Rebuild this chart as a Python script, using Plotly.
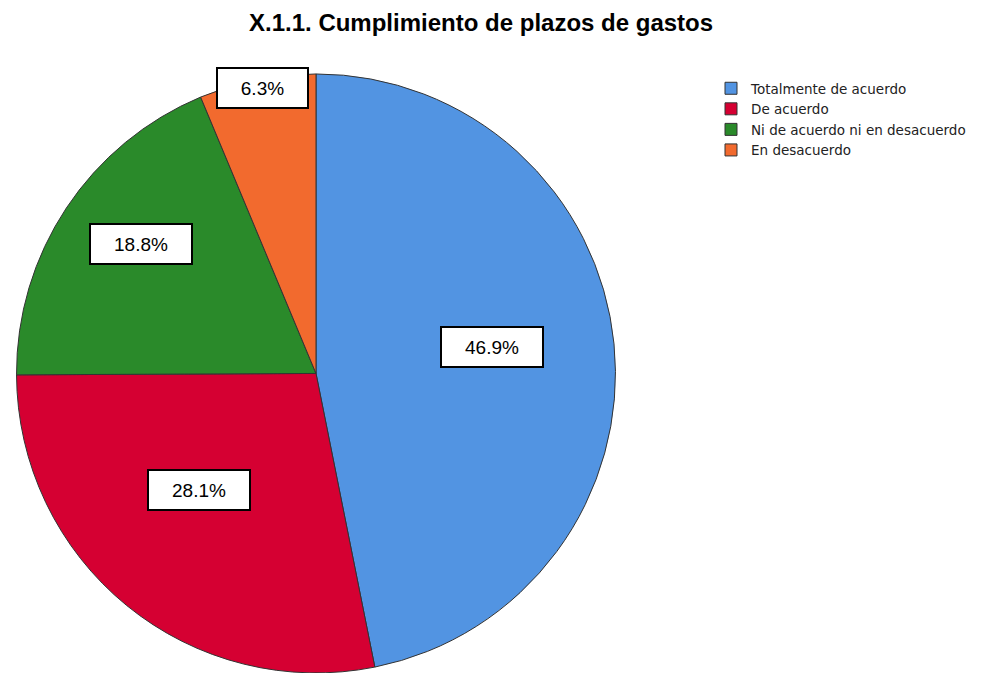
import math
import plotly.graph_objects as go

categories = ["Totalmente de acuerdo", "De acuerdo", "Ni de acuerdo ni en desacuerdo", "En desacuerdo"]
values = [46.9, 28.1, 18.8, 6.3]
colors = ["#5294E2", "#D50032", "#2A8A2A", "#F26A2E"]
label_radius = [0.59, 0.55, 0.73, 0.97]
label_angle_shift = [-3.2, 6.3, 2.9, 0.5]

W, H = 1000, 673
dom_x = [0.008, 0.608]
dom_y = [0.012, 0.902]
# small correction so annotation boxes land where intended
ox, oy = -7, 8

fig = go.Figure(go.Pie(
    labels=categories,
    values=values,
    sort=False,
    direction="clockwise",
    rotation=0,
    marker=dict(colors=colors, line=dict(color="#333333", width=1)),
    textinfo="none",
    hoverinfo="label+percent",
    domain=dict(x=dom_x, y=dom_y),
))

# label boxes (positions derived from slice mid-angles)
cx = (316 + ox) / W
cy = 1 - (374 - oy) / H
Rpx = 300
total = sum(values)
cum = 0
annotations = []
for v, rf, da in zip(values, label_radius, label_angle_shift):
    mid = (cum + v / 2) / total * 2 * math.pi + math.radians(da)
    cum += v
    x = cx + rf * Rpx * math.sin(mid) / W
    y = cy + rf * Rpx * math.cos(mid) / H
    txt = f"{v:.1f}%"
    annotations.append(dict(
        x=x, y=y, xref="paper", yref="paper", text=txt, showarrow=False,
        font=dict(family="Liberation Sans, Arial, sans-serif", size=19, color="#000000"),
        bgcolor="#FFFFFF", bordercolor="#000000", borderwidth=2, borderpad=0,
        width=11 * len(txt) + 45, height=38, xanchor="center", yanchor="middle",
    ))

annotations.append(dict(
    x=(479.5 + ox) / W, y=1 - (22 - oy) / H, xref="paper", yref="paper",
    text="<b>X.1.1. Cumplimiento de plazos de gastos</b>", showarrow=False,
    font=dict(family="Liberation Sans, Arial, sans-serif", size=24, color="#000000"),
    xanchor="center", yanchor="middle",
))

fig.update_layout(
    width=W, height=H,
    margin=dict(l=0, r=0, t=0, b=0),
    paper_bgcolor="#FFFFFF",
    plot_bgcolor="#FFFFFF",
    showlegend=True,
    legend=dict(
        x=703 / W, y=1 - 65 / H, xanchor="left", yanchor="top",
        font=dict(family="DejaVu Sans, sans-serif", size=13.5, color="#222222"),
        itemwidth=30, tracegroupgap=0, bgcolor="rgba(0,0,0,0)",
    ),
    annotations=annotations,
)

fig.write_html("out.html")
